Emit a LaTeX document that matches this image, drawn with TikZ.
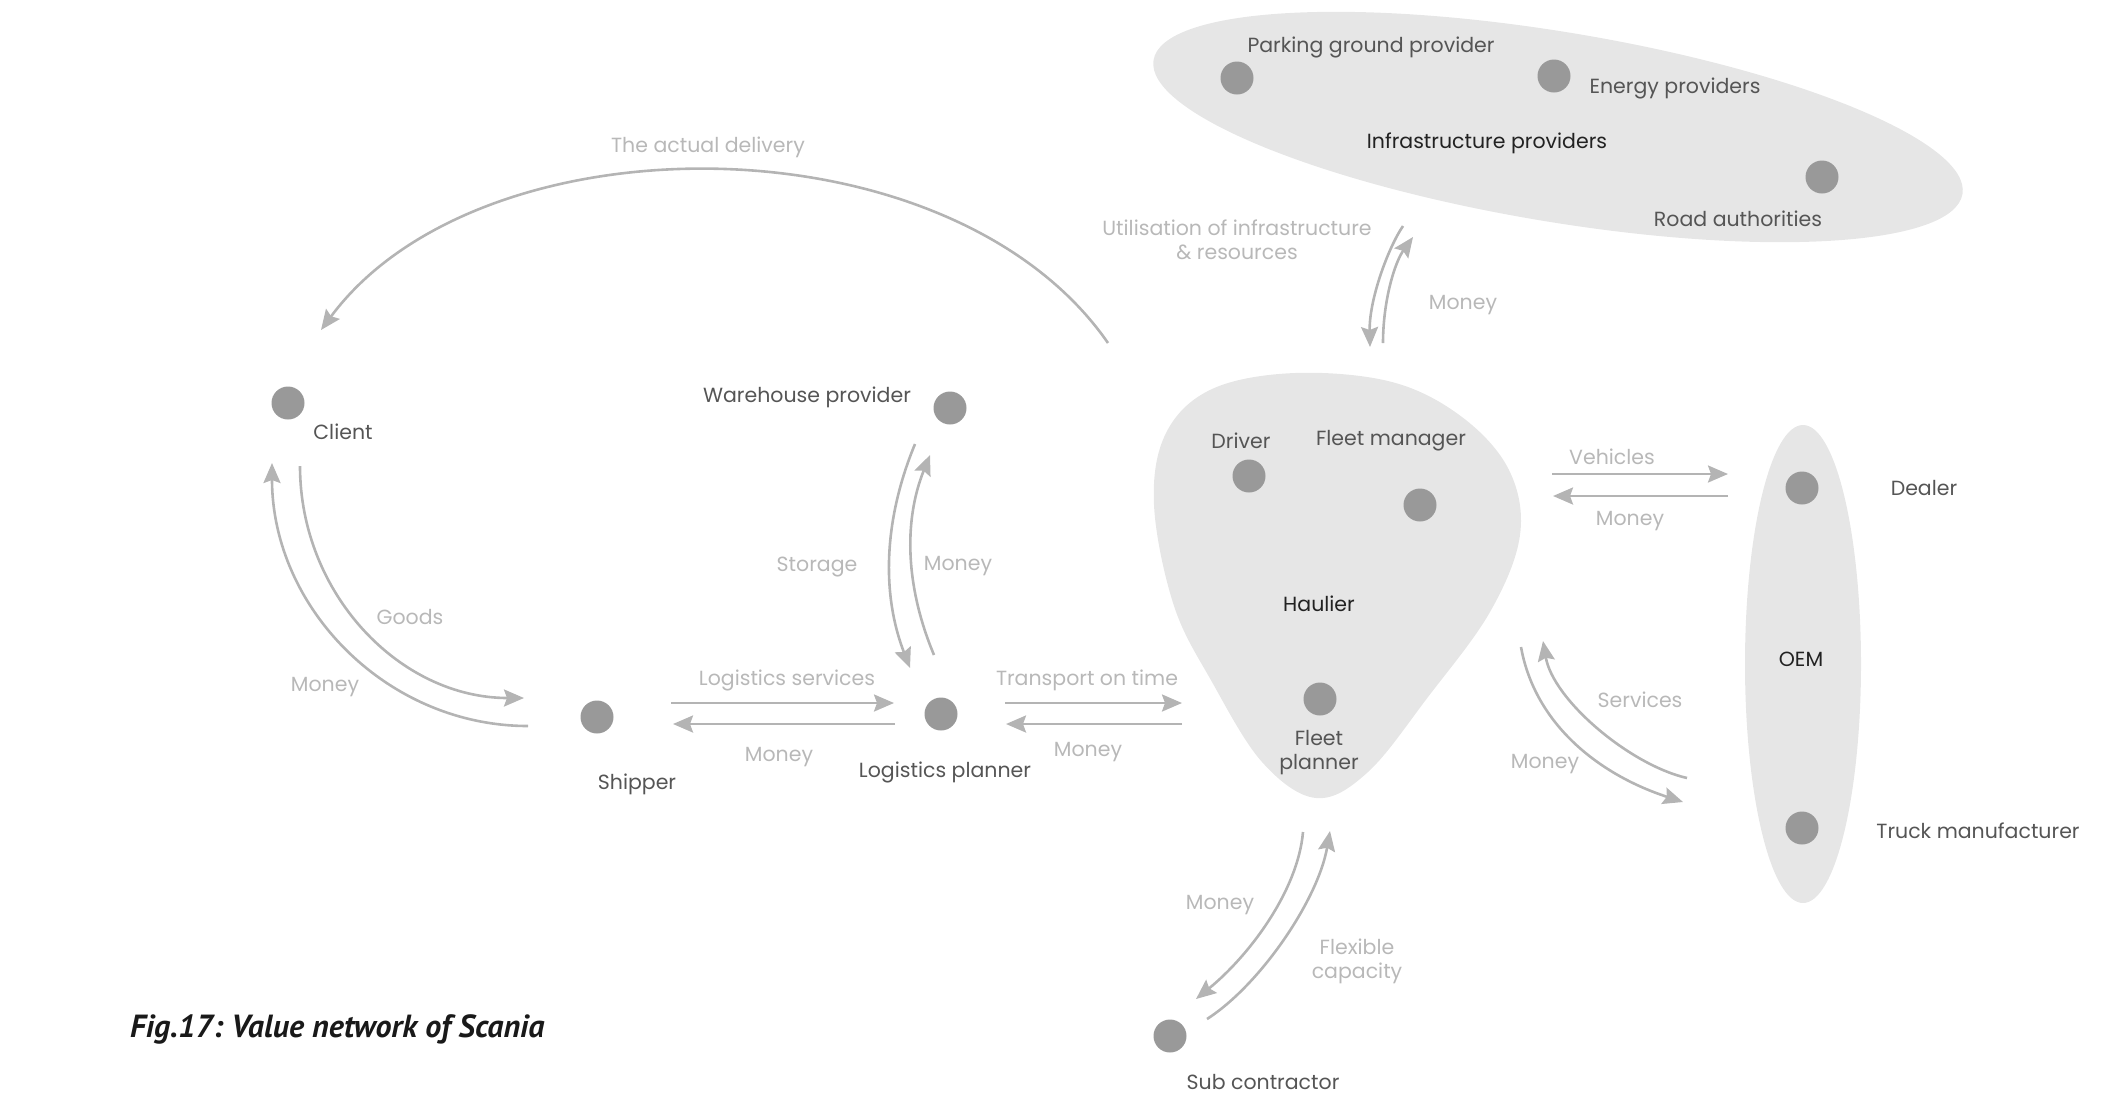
\documentclass[tikz,border=0pt]{standalone}
\usepackage{fontspec}
\setmainfont{Poppins}
\newfontfamily\capfont{PT Sans}
\usetikzlibrary{arrows.meta}
\frenchspacing

\definecolor{blobfill}{HTML}{E6E6E6}
\definecolor{dotgray}{HTML}{999999}
\definecolor{flowgray}{HTML}{B4B4B4}
\definecolor{flowtext}{HTML}{B8B8B8}
\definecolor{nametext}{HTML}{555555}
\definecolor{grouptext}{HTML}{222222}

\tikzset{
  actor/.style={circle, fill=dotgray, minimum size=33pt, inner sep=0pt},
  actorname/.style={text=nametext, font=\fontsize{20.5}{24}\selectfont, inner sep=0pt, align=center, yshift=-2pt},
  grouplabel/.style={text=grouptext, font=\fontsize{20.5}{24}\selectfont, inner sep=0pt, align=center, yshift=-2pt},
  flowlabel/.style={text=flowtext, font=\fontsize{20.5}{24}\selectfont, inner sep=0pt, align=center, yshift=-2pt},
  flowarrow/.style={draw=flowgray, line width=2.6pt, -{Stealth[length=20pt,width=17pt,inset=3pt]}},
  zone/.style={fill=blobfill}
}

\begin{document}
\begin{tikzpicture}[x=1pt, y=-1pt]
\useasboundingbox (0,0) rectangle (2104,1096);

% ---------- grouped regions ----------
\fill[zone, rotate around={-9.4:(1558,127)}] (1558,127) ellipse [x radius=410pt, y radius=95pt];
\fill[zone] plot[smooth cycle, tension=0.6] coordinates {
  (1295,373) (1392,382) (1462,417) (1509,470) (1520,535) (1490,612)
  (1428,697) (1368,772) (1316,798) (1262,762) (1212,682) (1174,606)
  (1154,505) (1166,433) (1212,389)};
\fill[zone] (1803,664) ellipse [x radius=58pt, y radius=239pt];

% ---------- actors ----------
\node[actor] (client)    at (288,403)  {};
\node[actor] (warehouse) at (950,408)  {};
\node[actor] (shipper)   at (597,717)  {};
\node[actor] (logistics) at (941,714)  {};
\node[actor] (driver)    at (1249,476) {};
\node[actor] (fleetman)  at (1420,505) {};
\node[actor] (fleetplan) at (1320,699) {};
\node[actor] (dealer)    at (1802,488) {};
\node[actor] (truckmfr)  at (1802,828) {};
\node[actor] (subcon)    at (1170,1036){};
\node[actor] (parking)   at (1237,78)  {};
\node[actor] (energy)    at (1554,76)  {};
\node[actor] (road)      at (1822,177) {};

% ---------- actor names ----------
\node[actorname] (clientT)    at (343,430)  {Client};
\node[actorname] (warehouseT) at (807,395)  {Warehouse provider};
\node[actorname] (shipperT)   at (637,782)  {Shipper};
\node[actorname] (logisticsT) at (945,770)  {Logistics planner};
\node[actorname] (driverT)    at (1241,439) {Driver};
\node[actorname] (fleetmanT)  at (1391,439) {Fleet manager};
\node[actorname] (fleetplanT) at (1319,751) {Fleet\\planner};
\node[actorname] (dealerT)    at (1924,486) {Dealer};
\node[actorname] (truckmfrT)  at (1978,829) {Truck manufacturer};
\node[actorname, yshift=2pt] (subconT) at (1263,1082){Sub contractor};
\node[actorname] (parkingT)   at (1371,45)  {Parking ground provider};
\node[actorname] (energyT)    at (1675,86)  {Energy providers};
\node[actorname] (roadT)      at (1738,217) {Road authorities};

\node[grouplabel] (infraT)   at (1487,141) {Infrastructure providers};
\node[grouplabel] (haulierT) at (1319,602) {Haulier};
\node[grouplabel] (oemT)     at (1801,657) {OEM};

% ---------- flow end points ----------
\coordinate (delivS) at (1108,343);  \coordinate (delivE) at (321,330);
\coordinate (goodsS) at (300,466);   \coordinate (goodsE) at (524,698);
\coordinate (cpayS)  at (528,726);   \coordinate (cpayE)  at (272,463);
\coordinate (lsS)    at (671,703);   \coordinate (lsE)    at (894,703);
\coordinate (lpayS)  at (895,724);   \coordinate (lpayE)  at (673,724);
\coordinate (storS)  at (915,444);   \coordinate (storE)  at (910,668);
\coordinate (wpayS)  at (934,655);   \coordinate (wpayE)  at (930,455);
\coordinate (trS)    at (1005,703);  \coordinate (trE)    at (1182,703);
\coordinate (hpayS)  at (1182,724);  \coordinate (hpayE)  at (1006,724);
\coordinate (utilS)  at (1403,226);  \coordinate (utilE)  at (1370,347);
\coordinate (ipayS)  at (1383,343);  \coordinate (ipayE)  at (1413,237);
\coordinate (vehS)   at (1552,474);  \coordinate (vehE)   at (1728,474);
\coordinate (dpayS)  at (1728,496);  \coordinate (dpayE)  at (1553,496);
\coordinate (tpayS)  at (1521,647);  \coordinate (tpayE)  at (1683,802);
\coordinate (servS)  at (1687,778);  \coordinate (servE)  at (1543,641);
\coordinate (spayS)  at (1303,832);  \coordinate (spayE)  at (1196,999);
\coordinate (flexS)  at (1207,1019); \coordinate (flexE)  at (1330,831);

% ---------- flows ----------
\draw[flowarrow] (delivS) .. controls (950,115) and (480,115) .. (delivE);
\draw[flowarrow] (goodsS) .. controls (300,594) and (400,698) .. (goodsE);
\draw[flowarrow] (cpayS)  .. controls (387,726) and (272,608) .. (cpayE);
\draw[flowarrow] (lsS) -- (lsE);
\draw[flowarrow] (lpayS) -- (lpayE);
\draw[flowarrow] (storS) .. controls (884,519) and (881,593) .. (storE);
\draw[flowarrow] (wpayS) .. controls (906,588) and (903,522) .. (wpayE);
\draw[flowarrow] (trS) -- (trE);
\draw[flowarrow] (hpayS) -- (hpayE);
\draw[flowarrow] (utilS) .. controls (1388,248) and (1369,300) .. (utilE);
\draw[flowarrow] (ipayS) .. controls (1383,300) and (1395,262) .. (ipayE);
\draw[flowarrow] (vehS) -- (vehE);
\draw[flowarrow] (dpayS) -- (dpayE);
\draw[flowarrow] (tpayS) .. controls (1535,725) and (1600,775) .. (tpayE);
\draw[flowarrow] (servS) .. controls (1630,765) and (1553,700) .. (servE);
\draw[flowarrow] (spayS) .. controls (1298,890) and (1250,955) .. (spayE);
\draw[flowarrow] (flexS) .. controls (1260,985) and (1318,900) .. (flexE);

% ---------- flow labels ----------
\node[flowlabel] (delivT) at (708,145)  {The actual delivery};
\node[flowlabel] (goodsT) at (410,615)  {Goods};
\node[flowlabel] (cpayT)  at (325,685)  {Money};
\node[flowlabel] (lsT)    at (787,678)  {Logistics services};
\node[flowlabel] (lpayT)  at (779,755)  {Money};
\node[flowlabel] (storT)  at (817,565)  {Storage};
\node[flowlabel] (wpayT)  at (958,564)  {Money};
\node[flowlabel] (trT)    at (1087,678) {Transport on time};
\node[flowlabel] (hpayT)  at (1088,750) {Money};
\node[flowlabel] (utilT)  at (1237,238) {Utilisation of infrastructure\\\& resources};
\node[flowlabel] (ipayT)  at (1463,303) {Money};
\node[flowlabel] (vehT)   at (1612,455) {Vehicles};
\node[flowlabel] (dpayT)  at (1630,519) {Money};
\node[flowlabel] (servT)  at (1640,698) {Services};
\node[flowlabel] (tpayT)  at (1545,762) {Money};
\node[flowlabel] (spayT)  at (1220,903) {Money};
\node[flowlabel] (flexT)  at (1357,959) {Flexible\\capacity};

% ---------- caption ----------
\node[anchor=west, inner sep=0pt, text=black!90, font=\capfont\bfseries\itshape\fontsize{32}{36}\selectfont]
  (caption) at (130,1029) {Fig.17: Value network of Scania};
\end{tikzpicture}
\end{document}
